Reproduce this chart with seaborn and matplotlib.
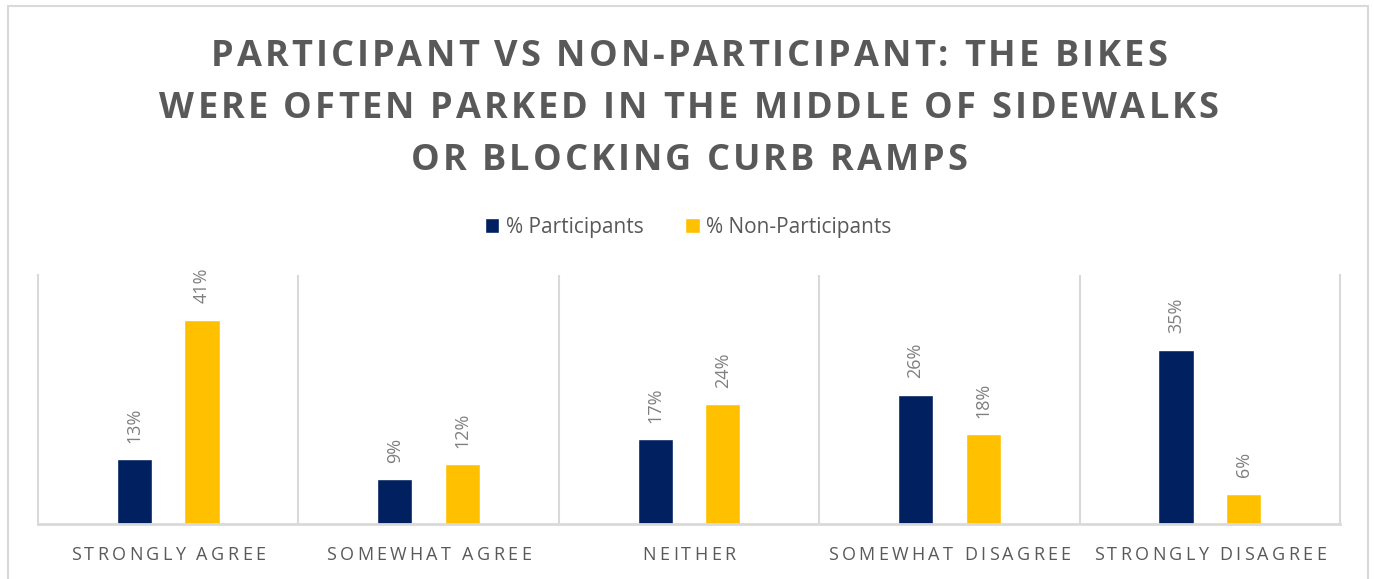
import matplotlib
matplotlib.use("Agg")
import matplotlib.pyplot as plt
import pandas as pd
import seaborn as sns
from matplotlib.font_manager import FontProperties, findfont, get_font
from matplotlib.transforms import offset_copy
from matplotlib.patches import Rectangle

try:
    from matplotlib.ft2font import LoadFlags
    NO_HINT = LoadFlags.NO_HINTING
except ImportError:
    from matplotlib.ft2font import LOAD_NO_HINTING as NO_HINT

# ---- data ----
categories = ["STRONGLY AGREE", "SOMEWHAT AGREE", "NEITHER",
              "SOMEWHAT DISAGREE", "STRONGLY DISAGREE"]
participants = [13, 9, 17, 26, 35]
non_participants = [41, 12, 24, 18, 6]
series = ["% Participants", "% Non-Participants"]
colors = ["#002060", "#FFC000"]
title_lines = [
    "PARTICIPANT VS NON-PARTICIPANT: THE BIKES",
    "WERE OFTEN PARKED IN THE MIDDLE OF SIDEWALKS",
    "OR BLOCKING CURB RAMPS",
]

df = pd.DataFrame({
    "category": categories * 2,
    "series": [series[0]] * len(categories) + [series[1]] * len(categories),
    "value": participants + non_participants,
})

TEXT_DARK = "#595959"
TEXT_LIGHT = "#7f7f7f"
GRID = "#d9d9d9"
W, H, DPI = 1374, 579, 100

sns.set_theme(style="white")
plt.rcParams["font.family"] = ["Open Sans", "DejaVu Sans"]

fig = plt.figure(figsize=(W / DPI, H / DPI), dpi=DPI)
fig.patch.set_facecolor("white")
ax = fig.add_axes([38 / W, 1 - 524 / H, (1340 - 38) / W, (524 - 275) / H])

sns.barplot(data=df, x="category", y="value", hue="series",
            order=categories, hue_order=series, palette=colors,
            saturation=1, width=0.52, gap=0.48, ax=ax)

ax.set_xlim(-0.5, len(categories) - 0.5)
ax.set_ylim(0, 50)
ax.set_xlabel("")
ax.set_ylabel("")
ax.set_yticks([])
ax.set_xticks([])
ax.spines["top"].set_visible(False)
for side in ("left", "right"):
    ax.spines[side].set_color(GRID)
    ax.spines[side].set_linewidth(1.5)
ax.spines["bottom"].set_color(GRID)
ax.spines["bottom"].set_linewidth(2)
for i in range(len(categories) - 1):
    ax.axvline(i + 0.5, color=GRID, lw=1.5, zorder=0)

# rotated value labels above each bar
for cont in ax.containers:
    ax.bar_label(cont, fmt="%.0f%%", rotation=90, padding=12,
                 color=TEXT_LIGHT, fontsize=13)

# legend centred above the plot
handles, labels = ax.get_legend_handles_labels()
if ax.legend_ is not None:
    ax.legend_.remove()
fig.legend(handles, labels, loc="center", bbox_to_anchor=(688 / W, 1 - 227 / H),
           ncol=2, frameon=False, fontsize=15, handlelength=0.7,
           handleheight=0.7, handletextpad=0.3, columnspacing=2.0,
           labelcolor=TEXT_DARK)


def advances(text, prop):
    font = get_font(findfont(prop))
    font.set_size(prop.get_size_in_points(), 72)
    out = []
    for ch in text:
        g = font.load_char(ord(ch), flags=NO_HINT)
        out.append(g.linearHoriAdvance / 65536)
    return out


def tracked_text(x, y, text, transform, prop, tracking, color, dy=0.0):
    """Draw text centred at (x, y) with extra letter spacing (points)."""
    adv = advances(text, prop)
    total = sum(adv) + tracking * (len(text) - 1)
    pos = -total / 2
    for ch, a in zip(text, adv):
        tr = offset_copy(transform, fig=fig, x=pos, y=dy, units="points")
        fig.text(x, y, ch, transform=tr, ha="left", va="baseline",
                 fontproperties=prop, color=color)
        pos += a + tracking


# title
title_prop = FontProperties(family=["Open Sans"], weight="bold", size=26)
for k, line in enumerate(title_lines):
    base_px = 66 + 52 * k
    tracked_text(689 / W, 1 - base_px / H, line, fig.transFigure,
                 title_prop, 2.2, TEXT_DARK)

# category labels, letter-spaced, under each group
cat_prop = FontProperties(family=["Open Sans"], size=13)
xt = ax.get_xaxis_transform()
for i, cat in enumerate(categories):
    tracked_text(i, 0, cat, xt, cat_prop, 2.35, TEXT_DARK, dy=-36 * 72 / DPI)

# outer chart frame
fig.patches.append(Rectangle((8 / W, -0.05), (1368 - 8) / W, (1 - 6 / H) + 0.05,
                             transform=fig.transFigure, fill=False,
                             ec=GRID, lw=1.5))

fig.savefig("out.png", dpi=DPI)
